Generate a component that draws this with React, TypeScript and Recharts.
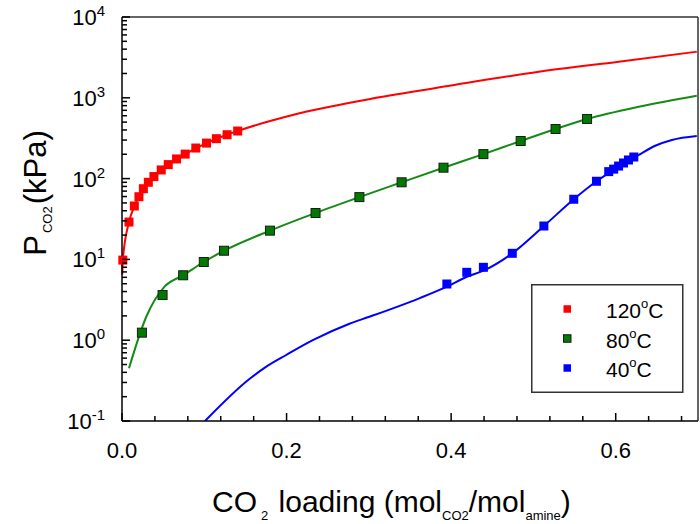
import { ComposedChart, Line, Scatter, XAxis, YAxis, ReferenceLine, Legend } from 'recharts';

const FONT = '"Liberation Sans", Arial, sans-serif';

// measured points
const red120X = [0.001, 0.0085, 0.015, 0.0206, 0.026, 0.032, 0.0388, 0.0477, 0.0562, 0.0663, 0.0768, 0.0897, 0.1027, 0.1147, 0.1277, 0.1406];
const red120P = [9.8, 29, 45.8, 59.7, 75, 90, 106, 128, 149, 175, 201, 239, 275, 312, 349, 388];

const green80X = [0.0242, 0.0493, 0.0743, 0.0994, 0.124, 0.1798, 0.2352, 0.2885, 0.3398, 0.3907, 0.4392, 0.4845, 0.5269, 0.5652];
const green80P = [1.24, 3.62, 6.36, 9.29, 12.8, 22.7, 37.5, 59, 90, 136.5, 201, 292, 411, 547];

const blue40X = [0.3948, 0.419, 0.4392, 0.4743, 0.5127, 0.549, 0.5766, 0.5915, 0.5975, 0.6035, 0.6095, 0.6155, 0.622];
const blue40P = [4.96, 6.92, 7.98, 11.9, 25.9, 55.5, 92.7, 122, 131, 143, 156, 170, 185];

// model curves
const redFitX = [0.0003, 0.001, 0.0085, 0.015, 0.026, 0.0388, 0.0562, 0.0768, 0.1027, 0.1277, 0.1406, 0.2158, 0.3127, 0.4, 0.5067, 0.6036, 0.6985];
const redFitP = [6.5, 9.8, 29, 45.8, 75, 106, 149, 201, 275, 349, 388, 643, 1013, 1420, 2100, 2800, 3720];

const greenFitX = [0.0085, 0.0295, 0.0517, 0.0743, 0.0994, 0.124, 0.1798, 0.2352, 0.2885, 0.3398, 0.3907, 0.4392, 0.4845, 0.5269, 0.5652, 0.628, 0.6985];
const greenFitP = [0.45, 1.95, 4.6, 6.36, 9.29, 12.8, 22.7, 37.5, 59, 90, 136.5, 201, 292, 411, 547, 776, 1062];

const blueFitX = [0.1009, 0.1552, 0.1754, 0.1996, 0.2319, 0.2764, 0.3006, 0.3612, 0.3948, 0.419, 0.4392, 0.4743, 0.5127, 0.549, 0.5766, 0.6035, 0.628, 0.648, 0.6683, 0.6985];
const blueFitP = [0.1, 0.333, 0.47, 0.656, 1.0, 1.6, 1.95, 3.3, 4.6, 6.1, 7.25, 11.9, 25.9, 55.5, 92.7, 140, 196, 255, 301, 337];

const xTicks = [0, 0.04, 0.08, 0.12, 0.16, 0.2, 0.24, 0.28, 0.32, 0.36, 0.4, 0.44, 0.48, 0.52, 0.56, 0.6, 0.64, 0.68];
const xTickLabels = [0, 0.2, 0.4, 0.6];
const yTicks = [
    0.1, 0.2, 0.3, 0.4, 0.5, 0.6, 0.7, 0.8, 0.9,
    1, 2, 3, 4, 5, 6, 7, 8, 9,
    10, 20, 30, 40, 50, 60, 70, 80, 90,
    100, 200, 300, 400, 500, 600, 700, 800, 900,
    1000, 2000, 3000, 4000, 5000, 6000, 7000, 8000, 9000,
    10000,
];

const series = [
    { name: '120', color: '#ff0000', line: '#ff0000', border: 'none' },
    { name: '80', color: '#007a00', line: '#148c14', border: '#1a1a1a' },
    { name: '40', color: '#0000ff', line: '#0000ff', border: 'none' },
];

const zip = (xs: number[], ps: number[]) => xs.map((x, i) => ({ x, p: ps[i] }));

const redPts = zip(red120X, red120P);
const greenPts = zip(green80X, green80P);
const bluePts = zip(blue40X, blue40P);
const redFit = zip(redFitX, redFitP);
const greenFit = zip(greenFitX, greenFitP);
const blueFit = zip(blueFitX, blueFitP);

function Square(props: any) {
    const { cx, cy, fill, stroke } = props;
    const s = 9;
    return <rect x={cx - s / 2} y={cy - s / 2} width={s} height={s} fill={fill} stroke={stroke} strokeWidth={stroke === 'none' ? 0 : 1} />;
}

function YTick(props: any) {
    const { x, y, payload } = props;
    const lg = Math.log10(payload.value);
    const e = Math.round(lg);
    const major = Math.abs(lg - e) < 1e-6;
    return (
        <g>
            <line x1={x} x2={x + (major ? 8 : 5)} y1={y} y2={y} stroke="#000" strokeWidth={1.5} />
            {major && (
                <text x={x - 17} y={y + 8} textAnchor="end" fontSize={22} fontFamily={FONT} fill="#000">
                    10<tspan dy={-9} fontSize={15}>{e}</tspan>
                </text>
            )}
        </g>
    );
}

function XTick(props: any) {
    const { x, y, payload } = props;
    const v = payload.value;
    const major = xTickLabels.some((t) => Math.abs(t - v) < 1e-6);
    return (
        <g>
            <line x1={x} x2={x} y1={y} y2={y - (major ? 8 : 5)} stroke="#000" strokeWidth={1.5} />
            {major && (
                <text x={x} y={y + 37} textAnchor="middle" fontSize={22} fontFamily={FONT} fill="#000">
                    {v.toFixed(1)}
                </text>
            )}
        </g>
    );
}

function renderXTitle(props: any) {
    const { viewBox } = props;
    return (
        <text x={viewBox.x + 90} y={viewBox.y + 91} fontSize={30} fontFamily={FONT} fill="#000">
            CO<tspan dx={4} dy={8} fontSize={13}>2</tspan>
            <tspan dx={2} dy={-8}> loading (mol</tspan>
            <tspan dy={8} fontSize={13}>CO2</tspan>
            <tspan dy={-8}>/mol</tspan>
            <tspan dy={8} fontSize={13}>amine</tspan>
            <tspan dy={-8}>)</tspan>
        </text>
    );
}

function renderYTitle(props: any) {
    const { viewBox } = props;
    const x = viewBox.x + 46;
    const y = viewBox.y + 176;
    return (
        <text x={x} y={y} transform={`rotate(-90 ${x} ${y})`} textAnchor="middle" fontSize={31} fontFamily={FONT} fill="#000">
            P<tspan dx={2} dy={6} fontSize={13}>CO2</tspan>
            <tspan dx={2} dy={-6}>(kPa)</tspan>
        </text>
    );
}

function renderLegend() {
    return (
        <svg width={153} height={110}>
            <rect x={0.75} y={0.75} width={151} height={107.5} fill="#fff" stroke="#333" strokeWidth={1.5} />
            {series.map((s, i) => {
                const cy = 25 + i * 29.5;
                return (
                    <g key={s.name}>
                        <rect x={32.5} y={cy - 3.75} width={7.5} height={7.5} fill={s.color} stroke={s.border} strokeWidth={s.border === 'none' ? 0 : 1} />
                        <text x={75} y={cy + 9} fontSize={21} fontFamily={FONT} fill="#000">
                            {s.name}
                            <tspan dy={-10} fontSize={13}>o</tspan>
                            <tspan dy={10}>C</tspan>
                        </text>
                    </g>
                );
            })}
        </svg>
    );
}

export default function App() {
    return (
        <div style={{ position: 'absolute', left: 0, top: 0, background: '#fff' }}>
            <ComposedChart width={700} height={524} margin={{ top: 17, right: 2, bottom: 0, left: 0 }}>
                <XAxis
                    type="number"
                    dataKey="x"
                    domain={[0, 0.7]}
                    ticks={xTicks}
                    interval={0}
                    tickSize={0}
                    tickMargin={0}
                    tick={<XTick />}
                    height={103}
                    axisLine={{ stroke: '#000', strokeWidth: 1.5 }}
                    label={renderXTitle}
                />
                <YAxis
                    type="number"
                    scale="log"
                    domain={[0.1, 10000]}
                    allowDataOverflow
                    ticks={yTicks}
                    interval={0}
                    tickSize={0}
                    tickMargin={0}
                    tick={<YTick />}
                    width={122}
                    axisLine={{ stroke: '#000', strokeWidth: 1.5 }}
                    label={renderYTitle}
                />
                <ReferenceLine y={10000} stroke="#333" strokeWidth={1.5} />
                <ReferenceLine x={0.7} stroke="#333" strokeWidth={1.5} />
                <Line data={redFit} dataKey="p" type="monotone" stroke={series[0].line} strokeWidth={2} dot={false} activeDot={false} isAnimationActive={false} />
                <Line data={greenFit} dataKey="p" type="monotone" stroke={series[1].line} strokeWidth={2} dot={false} activeDot={false} isAnimationActive={false} />
                <Line data={blueFit} dataKey="p" type="monotone" stroke={series[2].line} strokeWidth={2} dot={false} activeDot={false} isAnimationActive={false} />
                <Scatter data={redPts} dataKey="p" fill={series[0].color} stroke="none" shape={Square} isAnimationActive={false} />
                <Scatter data={greenPts} dataKey="p" fill={series[1].color} stroke={series[1].border} shape={Square} isAnimationActive={false} />
                <Scatter data={bluePts} dataKey="p" fill={series[2].color} stroke="none" shape={Square} isAnimationActive={false} />
                <Legend
                    layout="vertical"
                    align="center"
                    verticalAlign="middle"
                    content={renderLegend}
                    wrapperStyle={{ position: 'absolute', left: 531, top: 284, width: 153, height: 110 }}
                />
            </ComposedChart>
        </div>
    );
}
